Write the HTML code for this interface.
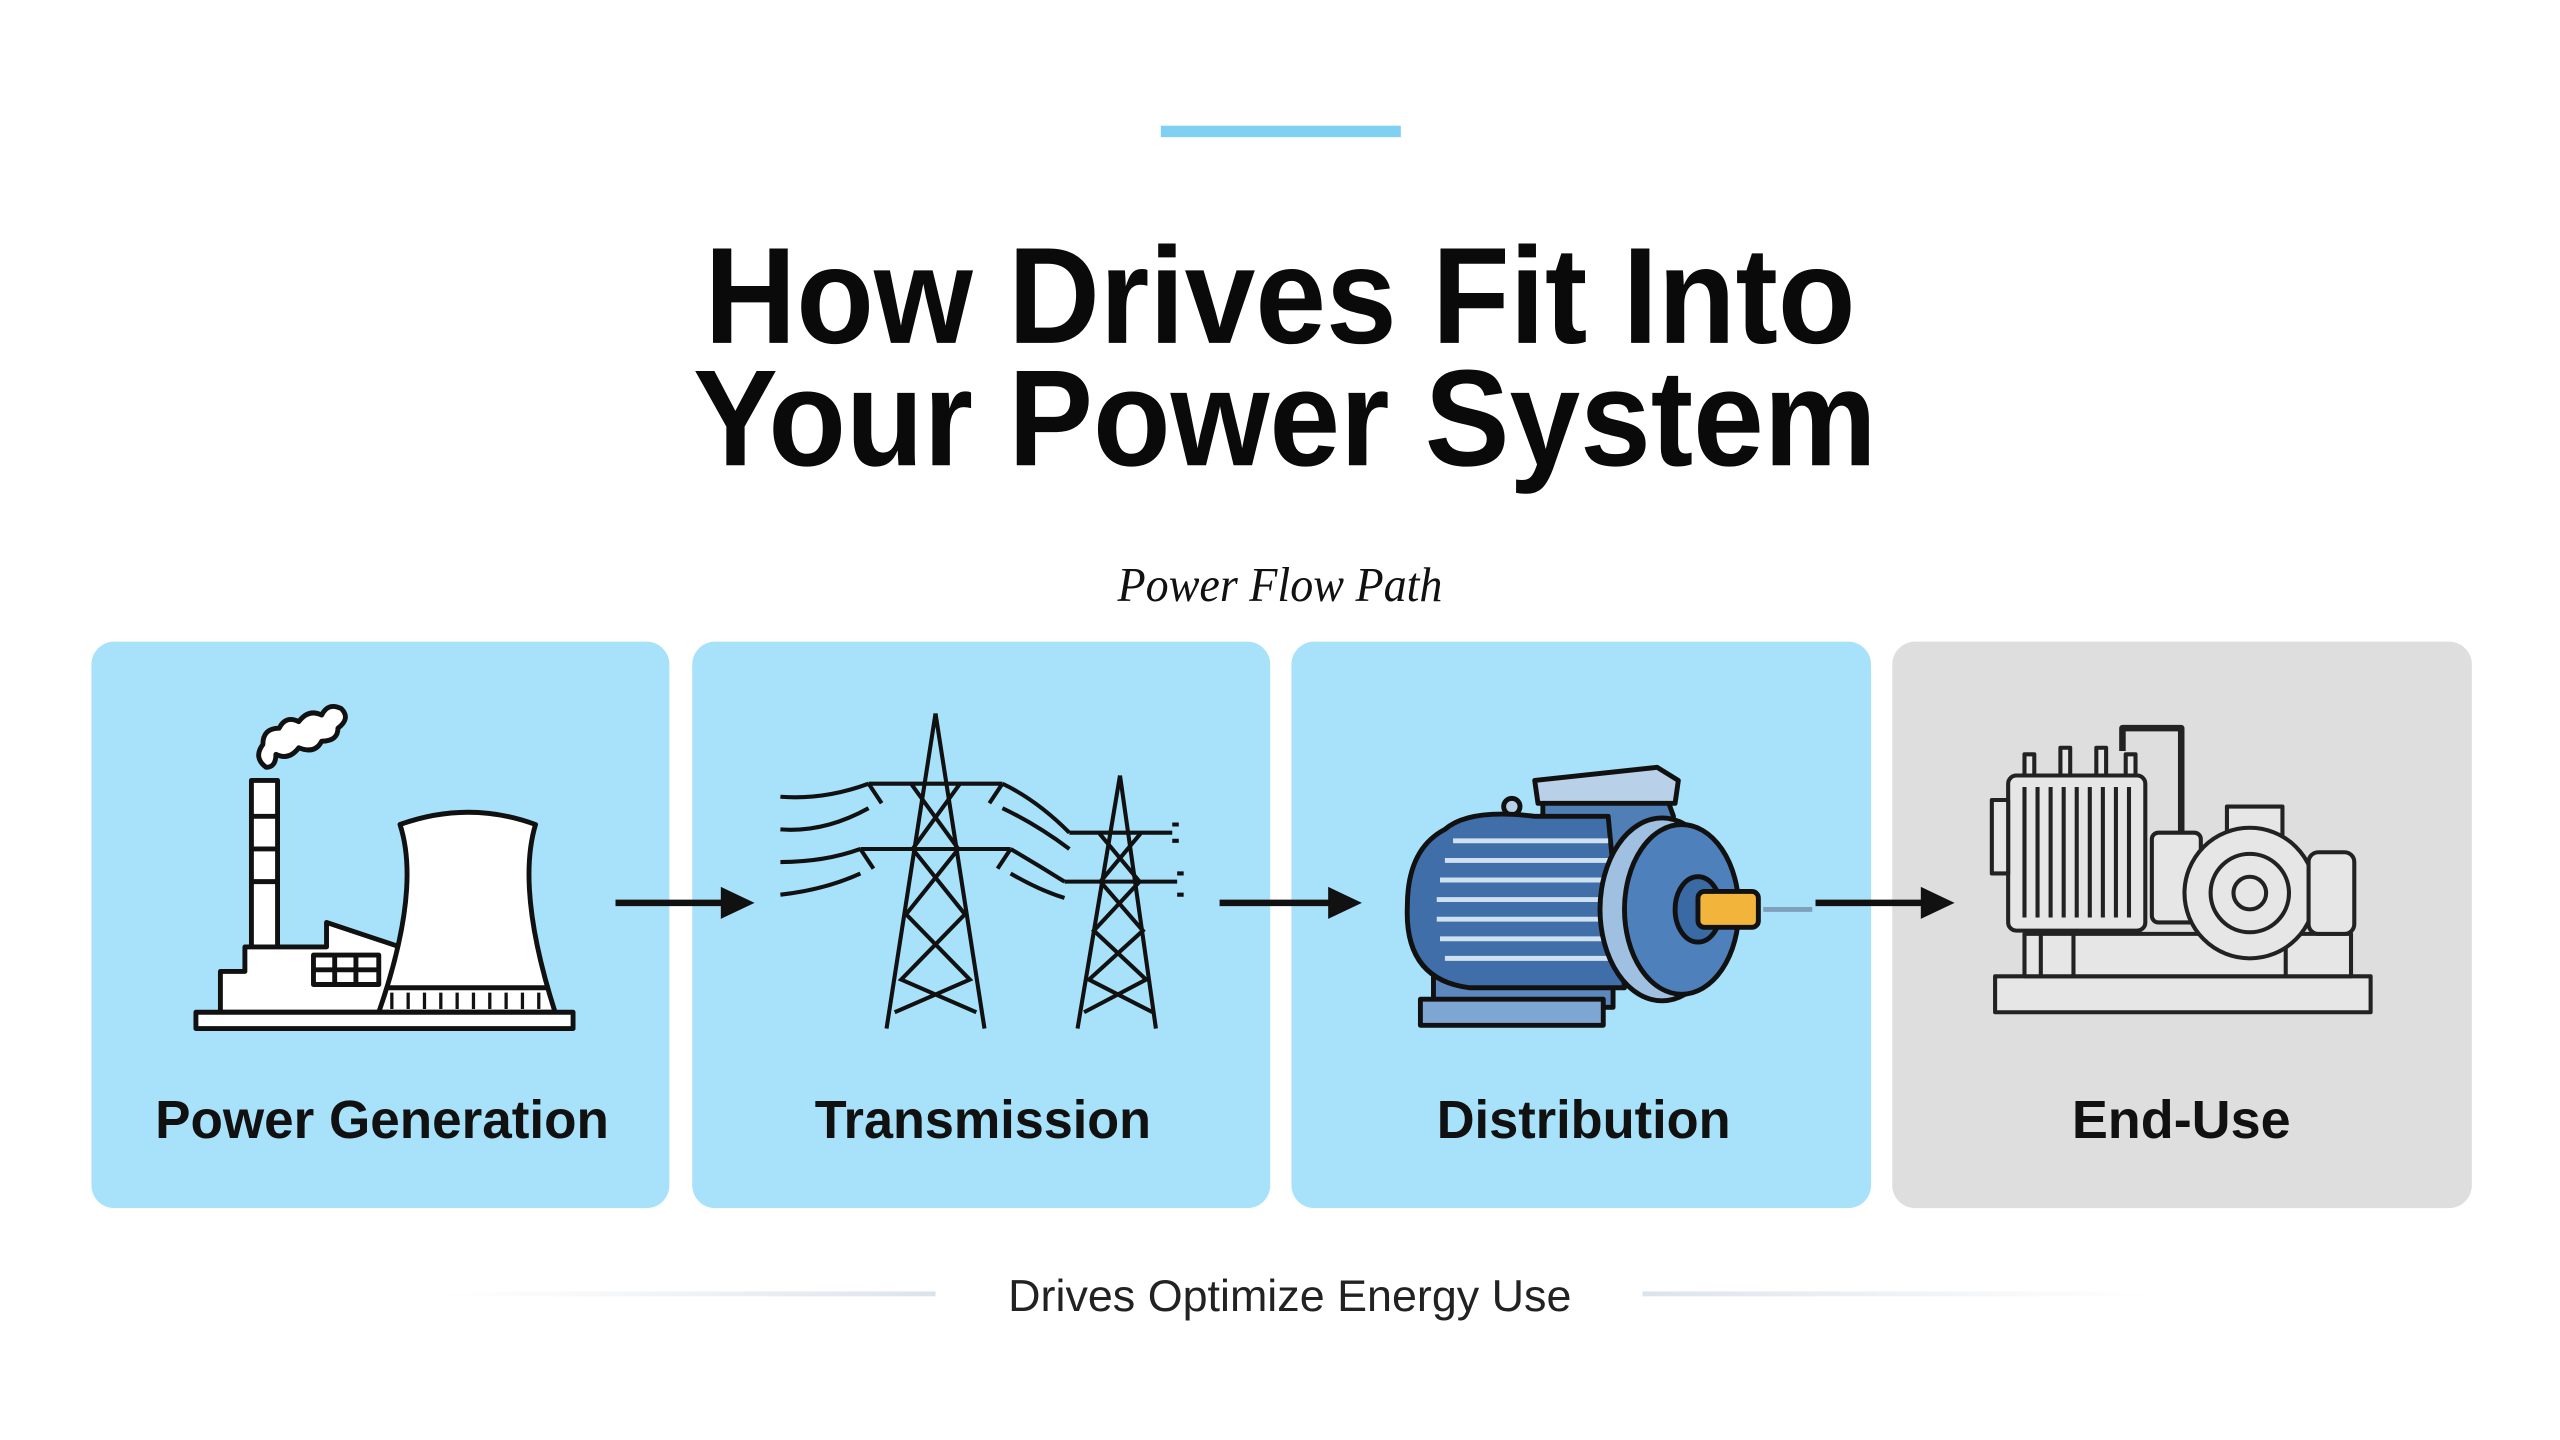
<!DOCTYPE html>
<html><head><meta charset="utf-8"><style>
html,body{margin:0;padding:0;background:#fff;}
svg{display:block;}
</style></head><body>
<svg width="2560" height="1440" viewBox="0 0 1568 882" xmlns="http://www.w3.org/2000/svg">
<rect width="1568" height="882" fill="#fff"/>
<rect x="711" y="77" width="147" height="7" fill="#7fd0f2"/>
<g font-family="Liberation Sans, sans-serif" font-weight="bold" fill="#0a0a0a" text-anchor="middle">
<text x="784" y="210" font-size="84" textLength="705" lengthAdjust="spacingAndGlyphs">How Drives Fit Into</text>
<text x="787" y="285" font-size="84" textLength="725" lengthAdjust="spacingAndGlyphs">Your Power System</text>
</g>
<text x="784" y="368" font-family="Liberation Serif, serif" font-style="italic" font-size="30" text-anchor="middle" fill="#111" textLength="199" lengthAdjust="spacingAndGlyphs">Power Flow Path</text>

<rect x="56" y="393" width="354" height="347" rx="14" fill="#a8e1fa"/>
<rect x="424" y="393" width="354" height="347" rx="14" fill="#a8e1fa"/>
<rect x="791" y="393" width="355" height="347" rx="14" fill="#a8e1fa"/>
<rect x="1159" y="393" width="355" height="347" rx="14" fill="#dedede"/>

<g font-family="Liberation Sans, sans-serif" font-weight="bold" font-size="33" fill="#111" text-anchor="middle">
<text x="234" y="697" textLength="278" lengthAdjust="spacingAndGlyphs">Power Generation</text>
<text x="602" y="697" textLength="206" lengthAdjust="spacingAndGlyphs">Transmission</text>
<text x="970" y="697" textLength="180" lengthAdjust="spacingAndGlyphs">Distribution</text>
<text x="1336" y="697" textLength="134" lengthAdjust="spacingAndGlyphs">End-Use</text>
</g>

<!-- power plant -->
<g stroke="#111" stroke-width="3" fill="#fff" stroke-linejoin="round">
<path d="M163 470 q-8 -6 -2 -14 q0 -10 10 -10 q4 -8 12 -4 q6 -8 14 -4 q4 -8 12 -4 q6 6 -2 12 q0 8 -10 8 q-4 8 -14 4 q-6 8 -14 4 q0 8 -6 8z"/>
<rect x="154" y="478" width="16" height="142"/>
<line x1="154" y1="500" x2="170" y2="500"/><line x1="154" y1="520" x2="170" y2="520"/><line x1="154" y1="540" x2="170" y2="540"/>
<path d="M135 620 V595 H150 V580 H200 V565 L245 580 V620Z"/>
<path d="M192 585 h40 v18 h-40z M192 594 h40 M205 585 v18 M218 585 v18" fill="none"/>
<path d="M245 505 Q287 490 328 505 Q316 545 340 620 H232 Q258 545 245 505Z"/>
<path d="M236 605 H336" fill="none"/>
<path d="M240 608 v10 M250 608 v10 M260 608 v10 M270 608 v10 M280 608 v10 M290 608 v10 M300 608 v10 M310 608 v10 M320 608 v10 M330 608 v10" fill="none" stroke-width="2"/>
<rect x="120" y="620" width="231" height="10"/>
</g>

<!-- transmission -->
<g stroke="#111" stroke-width="2.5" fill="none">
<path d="M573 437 L543 630 M573 437 L603 630"/>
<path d="M532 480 H614 M527 520 H619 M558 480 L587 520 L555 560 L594 600 L548 620 M588 480 L559 520 L591 560 L552 600 L598 620"/>
<path d="M532 480 L540 492 M614 480 L606 492 M527 520 L535 532 M619 520 L611 532"/>
<path d="M686 475 L660 630 M686 475 L708 630"/>
<path d="M655 510 H718 M652 540 H721 M673 510 L698 540 L670 570 L702 600 L664 620 M699 510 L674 540 L700 570 L667 600 L706 620"/>
<path d="M478 488 Q505 490 532 480 M478 508 Q505 510 532 495 M478 528 Q505 528 527 520 M478 548 Q505 545 527 535 M614 480 Q635 490 655 510 M614 495 Q635 505 655 520 M619 520 Q636 530 652 540 M619 535 Q636 545 652 550 M718 505 h4 M718 515 h4 M721 535 h4 M721 548 h4"/>
</g>

<!-- motor -->
<g stroke="#111" stroke-width="3" stroke-linejoin="round">
<rect x="878" y="585" width="110" height="32" fill="#5b88bd"/>
<rect x="870" y="612" width="112" height="16" fill="#7da6d2"/>
<path d="M945 488 L1020 486 L1025 500 L1022 540 H945Z" fill="#4f7fb5"/>
<path d="M940 478 L1015 470 L1028 478 L1026 492 H942Z" fill="#b8d0e8"/>
<circle cx="926" cy="494" r="5" fill="#b8d0e8"/>
<path d="M885 508 Q900 495 940 500 H985 L995 605 H900 Q860 600 862 555 Q862 520 885 508Z" fill="#3f6ea8"/>
<g stroke="#cfe1f1" stroke-width="3"><line x1="890" y1="515" x2="985" y2="515"/><line x1="885" y1="527" x2="985" y2="527"/><line x1="882" y1="539" x2="985" y2="539"/><line x1="880" y1="551" x2="985" y2="551"/><line x1="880" y1="563" x2="985" y2="563"/><line x1="882" y1="575" x2="985" y2="575"/><line x1="885" y1="587" x2="985" y2="587"/></g>
<ellipse cx="1018" cy="557" rx="38" ry="56" fill="#9fc0e0"/>
<ellipse cx="1030" cy="557" rx="35" ry="52" fill="#4e80bb"/>
<ellipse cx="1040" cy="557" rx="14" ry="20" fill="#3a6aa3"/>
<rect x="1040" y="546" width="37" height="22" rx="4" fill="#f2b43a"/>
</g>
<line x1="1080" y1="557" x2="1110" y2="557" stroke="#7ea0bb" stroke-width="3"/>

<!-- end use -->
<g stroke="#222" stroke-width="2.5" fill="#e6e6e6" stroke-linejoin="round">
<rect x="1222" y="598" width="230" height="22"/>
<rect x="1240" y="572" width="200" height="26"/>
<rect x="1230" y="475" width="84" height="95" rx="5"/>
<path d="M1240 482 v80 M1248 482 v80 M1256 482 v80 M1264 482 v80 M1272 482 v80 M1280 482 v80 M1288 482 v80 M1296 482 v80 M1304 482 v80" fill="none"/>
<rect x="1240" y="462" width="6" height="13"/><rect x="1262" y="458" width="6" height="17"/><rect x="1284" y="458" width="6" height="17"/><rect x="1302" y="462" width="6" height="13"/>
<path d="M1300 460 V446 H1336 V520" fill="none" stroke-width="4"/>
<rect x="1220" y="490" width="10" height="45"/>
<rect x="1318" y="510" width="30" height="55" rx="4"/>
<rect x="1364" y="494" width="34" height="18"/>
<circle cx="1378" cy="547" r="40"/>
<circle cx="1378" cy="547" r="24"/>
<circle cx="1378" cy="547" r="10"/>
<rect x="1414" y="522" width="28" height="50" rx="6"/>
<path d="M1250 572 v26 M1270 572 v26 M1400 580 v18" fill="none"/>
</g>

<!-- arrows -->
<g fill="#111" stroke="#111">
<line x1="377" y1="553" x2="445" y2="553" stroke-width="4"/><path d="M442 544 L461 553 L442 562Z"/>
<line x1="747" y1="553" x2="817" y2="553" stroke-width="4"/><path d="M814 544 L833 553 L814 562Z"/>
<line x1="1112" y1="553" x2="1180" y2="553" stroke-width="4"/><path d="M1177 544 L1196 553 L1177 562Z"/>
</g>

<defs>
<linearGradient id="lg1" x1="0" x2="1"><stop offset="0" stop-color="#e3e9ef" stop-opacity="0"/><stop offset="1" stop-color="#dbe3ea"/></linearGradient>
<linearGradient id="lg2" x1="0" x2="1"><stop offset="0" stop-color="#dbe3ea"/><stop offset="1" stop-color="#e3e9ef" stop-opacity="0"/></linearGradient>
</defs>
<rect x="270" y="791" width="303" height="3" fill="url(#lg1)"/>
<rect x="1006" y="791" width="314" height="3" fill="url(#lg2)"/>
<text x="790" y="803" font-family="Liberation Sans, sans-serif" font-size="27" fill="#222" text-anchor="middle" textLength="345" lengthAdjust="spacingAndGlyphs">Drives Optimize Energy Use</text>
</svg>
</body></html>
